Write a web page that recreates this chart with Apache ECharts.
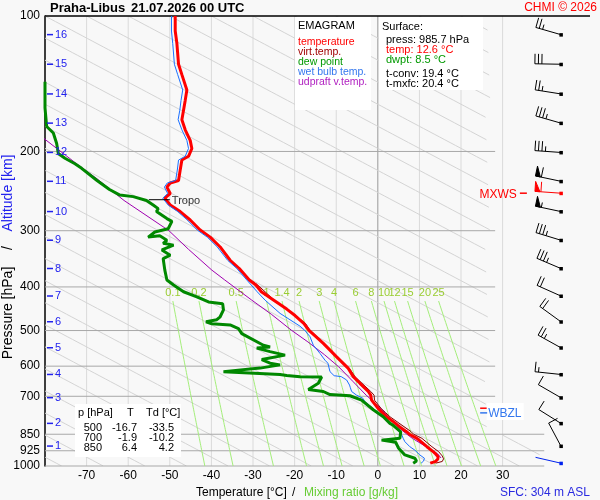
<!DOCTYPE html>
<html>
<head>
<meta charset="utf-8">
<title>Emagram Praha-Libus</title>
<script src="https://cdn.jsdelivr.net/npm/echarts@6.0.0/dist/echarts.min.js"></script>
<style>
  html, body { margin: 0; padding: 0; background: #f8f8f8; }
  #chart { width: 600px; height: 500px; }
</style>
</head>
<body>
<div id="chart"></div>
<script>
const FONT = '"Liberation Sans", Arial, sans-serif';

// diagram background
const isobars = [100, 200, 300, 400, 500, 600, 700, 850, 925, 1000];
const isotherms = [-70, -60, -50, -40, -30, -20, -10, 0, 10, 20, 30];
// slanted guide lines, named by their temperature at 100 hPa
const guideTop = [-290, -280, -270, -260, -250, -240, -230, -220, -210, -200, -190, -180, -170,
  -160, -150, -140, -130, -120, -110, -100, -90, -80, -70, -60, -50, -40, -30, -20, -10, 0, 10, 20];
const mixRatios = [0.1, 0.2, 0.5, 1, 1.4, 2, 3, 4, 6, 8, 10, 12, 15, 20, 25];

// altitude marks (km) and their pressure (hPa)
const altKm = [1, 2, 3, 4, 5, 6, 7, 8, 9, 10, 11, 12, 13, 14, 15, 16];
const altP = [903, 804, 705, 626, 546, 478, 419, 364, 315, 272, 233, 201, 173, 149, 128, 110];

// sounding profiles, [T degC, p hPa]
const temperature = [[12.6, 985.7], [13.8, 978], [14.4, 966], [14.5, 954], [13.9, 940], [13.3, 929],
  [11.8, 906], [10.3, 882], [9.4, 868], [7.6, 850], [6.9, 839], [5.2, 818], [3.7, 797], [2.1, 777],
  [1.0, 760], [0.1, 745], [-1.5, 714], [-1.7, 696], [-2.3, 683], [-4.3, 655], [-5.9, 633], [-7.1, 607],
  [-9.9, 572], [-13.1, 534], [-16.6, 499], [-17.8, 482], [-19.9, 463], [-21.9, 448], [-25.0, 428],
  [-28.0, 410], [-29.3, 396], [-30.9, 386], [-33.3, 364], [-35.5, 349], [-37.9, 326], [-40.3, 310],
  [-42.7, 299], [-45.1, 284], [-47.5, 272], [-49.9, 263], [-51.2, 254], [-49.9, 248], [-50.7, 240],
  [-49.9, 235], [-47.9, 232], [-47.5, 220], [-47.1, 209], [-45.5, 205], [-44.7, 197], [-45.1, 189],
  [-46.3, 179], [-47.1, 170], [-46.7, 162], [-46.3, 154], [-45.9, 146], [-47.1, 135], [-47.9, 128],
  [-48.3, 115], [-48.7, 108], [-48.7, 100]];

const virtTemp = [[13.9, 985.7], [15.5, 977], [15.8, 964], [15.5, 950], [14.6, 929], [13.0, 906],
  [10.6, 868], [8.6, 850], [8.0, 839], [4.6, 797], [2.9, 777], [1.8, 760], [0.8, 745], [-0.8, 714],
  [-0.9, 696], [-1.7, 683], [-3.8, 655], [-5.5, 633], [-6.8, 607], [-9.7, 572], [-12.9, 534],
  [-16.3, 499], [-17.4, 482], [-19.8, 463], [-21.8, 448], [-24.9, 428], [-28.9, 396], [-30.6, 386]];

const dewPoint = [[-80, 140], [-80, 160], [-79.6, 176], [-78, 182], [-77.2, 192], [-76.8, 202],
  [-75.2, 207], [-72.8, 213], [-71.2, 218], [-67.5, 232], [-64.5, 243], [-62, 250], [-58.8, 252],
  [-55.6, 257], [-54, 263], [-52.8, 268], [-53.2, 272], [-50.7, 282], [-49.5, 286], [-50.4, 297],
  [-53.6, 302], [-55.2, 310], [-52.4, 308], [-50.7, 315], [-51.6, 320], [-49.1, 323], [-51.9, 331],
  [-49.9, 340], [-51.6, 346], [-51.2, 367], [-50.7, 386], [-49.1, 396], [-46.7, 410], [-43.5, 421],
  [-40.7, 432], [-37.3, 436], [-37.1, 450], [-37.9, 466], [-38.7, 473], [-41.3, 478], [-39.9, 483],
  [-35.5, 486], [-33.5, 495], [-33.1, 500], [-32.7, 508], [-27.5, 539], [-25.9, 544], [-29.1, 547],
  [-25.9, 557], [-22.3, 567], [-27.9, 580], [-25.9, 591], [-23.5, 596], [-28.3, 606], [-37.1, 617],
  [-23.5, 626], [-21.9, 629], [-18.7, 633], [-13.5, 634], [-14.3, 655], [-16.7, 676], [-13.1, 683],
  [-11.5, 694], [-6.7, 698], [-3.9, 714], [-1.1, 750], [1.3, 777], [2.9, 804], [3.7, 812],
  [5.5, 840], [5.3, 868], [0.9, 876], [4.3, 886], [5.0, 913], [6.5, 945], [8.9, 961], [9.3, 975],
  [8.5, 985.7]];

const wetBulb = [[10.4, 985.7], [11.0, 975], [11.2, 961], [10.1, 945], [8.9, 922], [7.7, 906],
  [6.5, 883], [6.1, 868], [5.6, 846], [5.2, 839], [3.5, 810], [1.1, 777], [-1.1, 745], [-1.4, 738],
  [-3.1, 720], [-3.6, 707], [-5.1, 696], [-6.3, 683], [-6.6, 670], [-6.8, 661], [-7.5, 644],
  [-8.8, 633], [-10.5, 630], [-11.5, 617], [-12.0, 591], [-12.7, 582], [-13.9, 562], [-15.5, 539],
  [-16.3, 516], [-17.6, 499], [-18.7, 489], [-23.5, 458], [-27.1, 428], [-29.0, 410], [-31.5, 386],
  [-33.9, 364], [-36.1, 349], [-38.6, 326], [-41.0, 310], [-43.4, 299], [-45.8, 284], [-48.1, 272],
  [-50.4, 263], [-51.7, 254], [-50.5, 248], [-51.3, 240], [-50.6, 235], [-48.6, 232], [-48.2, 220],
  [-47.9, 209], [-46.3, 205], [-45.5, 197], [-45.9, 189], [-47.1, 179], [-48.0, 170], [-47.6, 162],
  [-47.3, 154], [-46.9, 146], [-48.1, 135], [-48.9, 128], [-49.3, 115], [-49.6, 108], [-49.6, 100]];

const updraft = [[15.2, 960], [14.4, 940], [12.2, 913], [8.3, 868], [7.0, 850], [4.9, 820],
  [2.5, 777], [1.0, 750], [-1.0, 720], [-2.8, 696], [-5.9, 650], [-9.4, 602], [-12.8, 566],
  [-16.8, 530], [-20.8, 499], [-25.6, 460], [-30.3, 428], [-36.8, 386], [-39.9, 367], [-45.5, 330],
  [-50.2, 300], [-61.0, 257], [-67.5, 230], [-72.4, 213], [-80, 188], [-85, 170]];

// winds at the altitude marks: direction (deg), speed (kt)
const windDir = [332, 302, 300, 276, 299, 306, 294, 293, 287, 282, 282, 274, 286, 279, 271, 286];
const windSpd = [10, 10, 10, 15, 25, 20, 20, 35, 35, 55, 60, 35, 35, 25, 30, 25];
const maxWind = [247.6, 274, 60];   // p, dir, kt
const sfcWind = [985.7, 283, 2];

// marked levels
const tropo = [-51.2, 256];
const freezeP = [744, 762];
const freezeNames = ['FZL', 'WBZL'];

// surface info and table
const sfcInfo = { press: 985.7, temp: 12.6, dwpt: 8.5, tconv: 19.4, tmxfc: 20.4 };
const tableP = [500, 700, 850];
const tableT = [-16.7, -1.9, 6.4];
const tableTd = [-33.5, -10.2, 4.2];

const BARB_T = 44;    // column of wind barbs (x axis units)
const LABEL_T = 24.6; // column of FZL/WBZL labels
const SKEW = 204;     // degC per pressure decade of the slanted guides

function mixT(w, p) {
  const e = w * p / (622 + w);
  const a = Math.log(e / 6.112);
  return 243.5 * a / (17.67 - a);
}

function text(x, y, s, color, size, align, extra) {
  return Object.assign({
    type: 'text', x: x, y: y, z: 100,
    style: {
      text: s, fill: color, font: (size || 11) + 'px ' + FONT,
      align: align || 'left', textAlign: align || 'left',
      verticalAlign: 'middle', textVerticalAlign: 'middle'
    }
  }, extra || {});
}

function boldText(x, y, s) {
  return {
    type: 'text', x: x, y: y, z: 100,
    style: {
      text: s, fill: '#000', font: 'bold 13px ' + FONT,
      align: 'left', textAlign: 'left', verticalAlign: 'middle', textVerticalAlign: 'middle'
    }
  };
}

function lineSeries(name, data, color, width, z) {
  return {
    type: 'line', name: name, data: data, showSymbol: false, symbol: 'none',
    silent: true, clip: true, z: z,
    lineStyle: { color: color, width: width }
  };
}

const chart = echarts.init(document.getElementById('chart'));

const option = {
  animation: false,
  backgroundColor: '#f8f8f8',
  grid: { left: 45, right: 10, top: 16, bottom: 34 },
  xAxis: {
    type: 'value', min: -80, max: 51, interval: 10,
    axisLine: { show: false, onZero: false }, axisTick: { show: false }, splitLine: { show: false },
    axisLabel: {
      color: '#000', fontSize: 12, fontFamily: FONT, margin: 4,
      formatter: v => (v >= -70 && v <= 30) ? String(v) : ''
    }
  },
  yAxis: {
    type: 'log', logBase: 10, min: 100, max: 1000, inverse: true,
    axisLine: { show: true, onZero: false, lineStyle: { color: '#000', width: 1.5 } },
    axisTick: { show: false }, axisLabel: { show: false }, splitLine: { show: false }
  },
  series: [
    {
      type: 'custom', name: 'isotherms', silent: true, z: 1,
      data: isotherms.map(t => [t, 1000]),
      renderItem(params, api) {
        const t = api.value(0);
        const a = api.coord([t, 100]), b = api.coord([t, 1000]);
        return {
          type: 'line', shape: { x1: a[0], y1: a[1], x2: b[0], y2: b[1] },
          style: { stroke: t === 0 ? '#999' : '#dadada', lineWidth: 1 }
        };
      }
    },
    {
      type: 'custom', name: 'guides', silent: true, z: 2, clip: true,
      data: guideTop.map(t => [t, 100]),
      renderItem(params, api) {
        const t0 = api.value(0);
        const segs = [];
        let cur = [];
        for (let i = 0; i <= 160; i++) {
          const p = 100 * Math.pow(10, i / 160);
          const t = t0 + SKEW * Math.log10(p / 100);
          const lim = p >= 850 ? 40 : 27;
          if (t >= -82 && t <= lim) {
            cur.push(api.coord([t, p]));
          } else if (cur.length) {
            segs.push(cur); cur = [];
          }
        }
        if (cur.length) segs.push(cur);
        return {
          type: 'group',
          children: segs.filter(s => s.length > 1).map(s => ({
            type: 'polyline', shape: { points: s },
            style: { stroke: '#d4d4d4', lineWidth: 1, fill: null }
          }))
        };
      }
    },
    {
      type: 'custom', name: 'isobars', silent: true, z: 3,
      data: isobars.map(p => [-80, p]),
      renderItem(params, api) {
        const p = api.value(1);
        const right = p === 100 ? 51 : (p >= 850 ? 40 : 28.2);
        const a = api.coord([-80, p]), b = api.coord([right, p]);
        return {
          type: 'group', children: [
            {
              type: 'line', shape: { x1: a[0], y1: a[1], x2: b[0], y2: b[1] },
              style: { stroke: p === 100 ? '#000' : '#a8a8a8', lineWidth: p === 100 ? 1.5 : 1 }
            },
            {
              type: 'text', x: a[0] - 5, y: a[1],
              style: {
                text: String(p), fill: '#000', font: '12px ' + FONT,
                align: 'right', textAlign: 'right', verticalAlign: 'middle', textVerticalAlign: 'middle'
              }
            }
          ]
        };
      }
    },
    {
      type: 'custom', name: 'mixing ratio', silent: true, z: 4,
      data: mixRatios.map(w => [w, 1000]),
      renderItem(params, api) {
        const w = api.value(0);
        const pts = [];
        for (let p = 430; p <= 1000; p += 10) pts.push(api.coord([mixT(w, p), p]));
        const lab = api.coord([mixT(w, 430), 413]);
        return {
          type: 'group', children: [
            { type: 'polyline', shape: { points: pts }, style: { stroke: '#a4ee7a', lineWidth: 1, fill: null } },
            {
              type: 'text', x: lab[0], y: lab[1],
              style: {
                text: String(w), fill: '#9acd32', font: '11px ' + FONT,
                align: 'center', textAlign: 'center', verticalAlign: 'middle', textVerticalAlign: 'middle'
              }
            }
          ]
        };
      }
    },
    lineSeries('udpraft v.temp.', updraft, '#a000b0', 1, 10),
    lineSeries('virt.temp.', virtTemp, '#8b0000', 1, 11),
    lineSeries('temperature', temperature, '#ff0000', 3, 12),
    lineSeries('wet bulb temp.', wetBulb, '#1a6fff', 1, 13),
    lineSeries('dew point', dewPoint, '#008800', 3, 14),
    {
      type: 'custom', name: 'altitude', silent: true, z: 20,
      data: altKm.map((k, i) => [-80, altP[i], k]),
      renderItem(params, api) {
        const c = api.coord([-80, api.value(1)]);
        return {
          type: 'group', children: [
            { type: 'line', shape: { x1: c[0] + 2, y1: c[1], x2: c[0] + 8, y2: c[1] }, style: { stroke: '#2222ee', lineWidth: 1.5 } },
            {
              type: 'text', x: c[0] + 10, y: c[1],
              style: {
                text: String(api.value(2)), fill: '#2222ee', font: '11px ' + FONT,
                align: 'left', textAlign: 'left', verticalAlign: 'middle', textVerticalAlign: 'middle'
              }
            }
          ]
        };
      }
    },
    {
      type: 'custom', name: 'tropopause', silent: true, z: 20,
      data: [tropo],
      renderItem(params, api) {
        const c = api.coord([api.value(0), api.value(1)]);
        return {
          type: 'group', children: [
            { type: 'line', shape: { x1: c[0] - 16, y1: c[1], x2: c[0] + 5, y2: c[1] }, style: { stroke: '#000', lineWidth: 1 } },
            {
              type: 'text', x: c[0] + 7, y: c[1] + 1,
              style: {
                text: 'Tropo', fill: '#333', font: '11px ' + FONT,
                align: 'left', textAlign: 'left', verticalAlign: 'middle', textVerticalAlign: 'middle'
              }
            }
          ]
        };
      }
    },
    {
      type: 'custom', name: 'freezing levels', silent: true, z: 20,
      data: freezeP.map((p, i) => [LABEL_T, p, i]),
      renderItem(params, api) {
        const c = api.coord([api.value(0), api.value(1)]);
        const i = api.value(2);
        const col = i === 0 ? '#ff0000' : '#3377ee';
        const kids = [];
        if (i === 1) kids.push({ type: 'rect', shape: { x: c[0] + 6.5, y: c[1] - 10, width: 37, height: 17 }, style: { fill: '#fff' } });
        kids.push({ type: 'line', shape: { x1: c[0], y1: c[1], x2: c[0] + 7, y2: c[1] }, style: { stroke: col, lineWidth: 1.5 } });
        kids.push({
          type: 'text', x: c[0] + 8, y: c[1] + 1,
          style: {
            text: freezeNames[i], fill: col, font: '12px ' + FONT,
            align: 'left', textAlign: 'left', verticalAlign: 'middle', textVerticalAlign: 'middle'
          }
        });
        return { type: 'group', children: kids };
      }
    },
    {
      type: 'custom', name: 'wind', silent: true, z: 20,
      data: altKm.map((k, i) => [BARB_T, altP[i], windDir[i], windSpd[i], 0])
        .concat([[BARB_T, maxWind[0], maxWind[1], maxWind[2], 1], [BARB_T, sfcWind[0], sfcWind[1], sfcWind[2], 2]]),
      renderItem(params, api) {
        const c = api.coord([api.value(0), api.value(1)]);
        const dir = api.value(2) * Math.PI / 180;
        let spd = Math.round(api.value(3) / 5) * 5;
        const kind = api.value(4);
        const col = ['#000', '#ff0000', '#0022ee'][kind];
        const ux = Math.sin(dir), uy = -Math.cos(dir);
        const nx = -uy, ny = ux;
        const L = 26, B = 10, gap = 3.5;
        const tx = c[0] + ux * L, ty = c[1] + uy * L;
        const kids = [
          { type: 'line', shape: { x1: c[0], y1: c[1], x2: tx, y2: ty }, style: { stroke: col, lineWidth: 1 } },
          { type: 'rect', shape: { x: c[0] - 1.5, y: c[1] - 1.5, width: 3.5, height: 3.5 }, style: { fill: col } }
        ];
        let pos = 0;
        while (spd >= 50) {
          const x0 = tx - ux * pos, y0 = ty - uy * pos;
          const x1 = tx - ux * (pos + 5), y1 = ty - uy * (pos + 5);
          kids.push({
            type: 'polygon',
            shape: { points: [[x0, y0], [x1, y1], [x0 + nx * B, y0 + ny * B]] },
            style: { fill: col, stroke: col, lineWidth: 1 }
          });
          pos += 6; spd -= 50;
        }
        while (spd >= 10) {
          const x0 = tx - ux * pos, y0 = ty - uy * pos;
          kids.push({ type: 'line', shape: { x1: x0, y1: y0, x2: x0 + nx * B, y2: y0 + ny * B }, style: { stroke: col, lineWidth: 1 } });
          pos += gap; spd -= 10;
        }
        if (spd >= 5) {
          if (pos === 0) pos = gap;
          const x0 = tx - ux * pos, y0 = ty - uy * pos;
          kids.push({ type: 'line', shape: { x1: x0, y1: y0, x2: x0 + nx * B / 2, y2: y0 + ny * B / 2 }, style: { stroke: col, lineWidth: 1 } });
        }
        if (kind === 1) {
          kids.push({ type: 'line', shape: { x1: c[0] - 41, y1: c[1], x2: c[0] - 34, y2: c[1] }, style: { stroke: col, lineWidth: 1.5 } });
          kids.push({
            type: 'text', x: c[0] - 44, y: c[1] + 1,
            style: {
              text: 'MXWS', fill: col, font: '12px ' + FONT,
              align: 'right', textAlign: 'right', verticalAlign: 'middle', textVerticalAlign: 'middle'
            }
          });
        }
        return { type: 'group', children: kids };
      }
    }
  ],
  graphic: [
    // title
    boldText(50, 8, 'Praha-Libus'),
    boldText(131, 8, '21.07.2026 00 UTC'),
    text(597, 8, 'CHMI \u00a9 2026', '#ff0000', 12, 'right'),

    // legend box
    { type: 'rect', z: 99, shape: { x: 295, y: 17, width: 76, height: 93 }, style: { fill: '#fff' } },
    text(298, 26, 'EMAGRAM', '#000', 11),
    text(298, 42, 'temperature', '#ff0000', 10.5),
    text(298, 52, 'virt.temp.', '#a00000', 10.5),
    text(298, 62, 'dew point', '#009900', 10.5),
    text(298, 72, 'wet bulb temp.', '#3377ee', 10.5),
    text(298, 82, 'udpraft v.temp.', '#b020c0', 10.5),

    // surface box
    { type: 'rect', z: 99, shape: { x: 379, y: 17, width: 104, height: 73 }, style: { fill: '#fff' } },
    text(382, 27, 'Surface:', '#000', 11),
    text(386, 40, 'press: ' + sfcInfo.press.toFixed(1) + ' hPa', '#000', 11),
    text(386, 50, 'temp: ' + sfcInfo.temp.toFixed(1) + ' \u00b0C', '#ff0000', 11),
    text(386, 60, 'dwpt: ' + sfcInfo.dwpt.toFixed(1) + ' \u00b0C', '#009900', 11),
    text(386, 74, 't-conv: ' + sfcInfo.tconv.toFixed(1) + ' \u00b0C', '#000', 11),
    text(386, 84, 't-mxfc: ' + sfcInfo.tmxfc.toFixed(1) + ' \u00b0C', '#000', 11),

    // table box
    { type: 'rect', z: 99, shape: { x: 75, y: 404, width: 106, height: 53 }, style: { fill: '#fff' } },
    text(78, 413, 'p [hPa]', '#000', 11),
    text(127, 413, 'T', '#000', 11),
    text(146, 413, 'Td [\u00b0C]', '#000', 11)
  ].concat(
    tableP.map((p, i) => text(102, 428 + i * 10, String(p), '#000', 11, 'right')),
    tableT.map((t, i) => text(137, 428 + i * 10, t.toFixed(1), '#000', 11, 'right')),
    tableTd.map((t, i) => text(174, 428 + i * 10, t.toFixed(1), '#000', 11, 'right')),
    [
      // axis names
      text(8, 313, 'Pressure [hPa]', '#000', 14, 'center', { rotation: Math.PI / 2 }),
      text(8, 248, '/', '#000', 14, 'center', { rotation: Math.PI / 2 }),
      text(8, 193, 'Altitude [km]', '#2222ee', 14, 'center', { rotation: Math.PI / 2 }),
      text(196, 493, 'Temperature [\u00b0C]', '#000', 12),
      text(292, 493, '/', '#000', 12),
      text(304, 493, 'Mixing ratio [g/kg]', '#66cc33', 12),
      text(590, 493, 'SFC: 304 m ASL', '#2a2ae0', 12, 'right')
    ]
  )
};

chart.setOption(option);
</script>
</body>
</html>
